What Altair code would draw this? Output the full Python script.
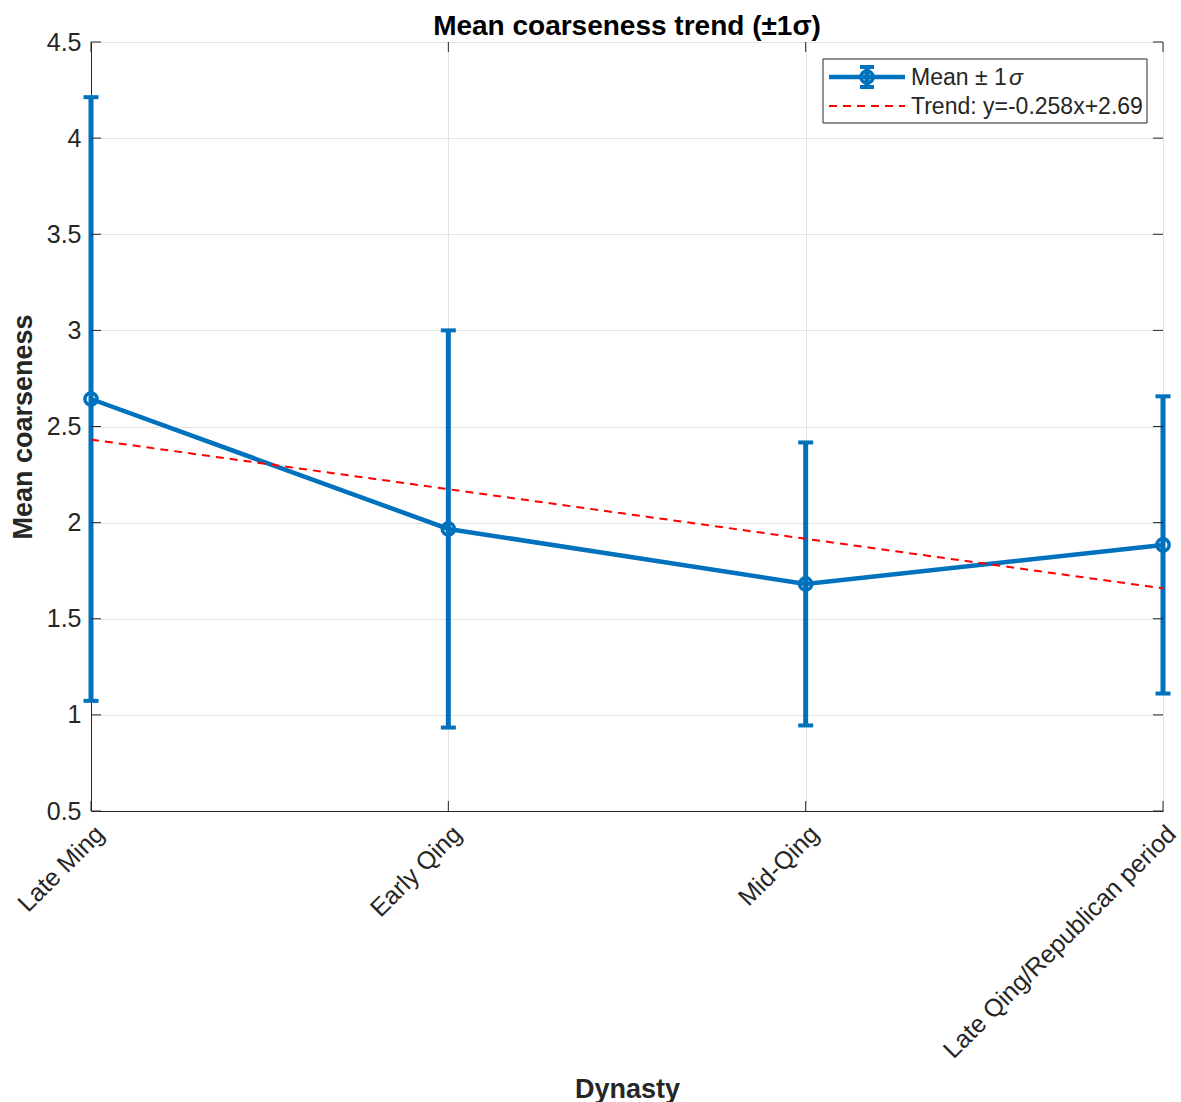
import altair as alt
import pandas as pd

# ---------------- data ----------------
dynasties = ["Late Ming", "Early Qing", "Mid-Qing", "Late Qing/Republican period"]
positions = [1, 2, 3, 4]
means = [2.643, 1.967, 1.681, 1.884]
sds = [1.570, 1.033, 0.736, 0.773]
trend_slope = -0.258
trend_intercept = 2.69
y_ticks = [0.5, 1.0, 1.5, 2.0, 2.5, 3.0, 3.5, 4.0, 4.5]
title_text = "Mean coarseness trend (\u00b11\u03c3)"
legend_label_1 = "Mean \u00b1 1"
legend_sigma = "\u03c3"
legend_label_2 = "Trend: y=-0.258x+2.69"

df = pd.DataFrame({"pos": positions, "dynasty": dynasties, "mean": means, "sd": sds})
df["lo"] = df["mean"] - df["sd"]
df["hi"] = df["mean"] + df["sd"]

trend_df = pd.DataFrame({"pos": [positions[0], positions[-1]]})
trend_df["y"] = trend_slope * trend_df["pos"] + trend_intercept

ytick_df = pd.DataFrame({"v": y_ticks})
xtick_df = pd.DataFrame({"pos": positions})
one = pd.DataFrame({"k": [0]})

# ---------------- style ----------------
W, H = 1072, 769
BLUE = "#0072BD"
DARK = "#262626"
FONT = "Liberation Sans"
TICK_FS = 25
LEG_FS = 23
AXT_FS = 27

x_scale = alt.Scale(domain=[1, 4], nice=False, zero=False)
y_scale = alt.Scale(domain=[0.5, 4.5], nice=False, zero=False)

label_expr = "[''," + ",".join("'" + d + "'" for d in dynasties) + "][datum.value]"

x_axis = alt.Axis(
    values=positions, labelExpr=label_expr, labelAngle=-45, labelAlign="right",
    labelBaseline="top", labelFontSize=TICK_FS, labelPadding=10, labelColor=DARK,
    labelFont=FONT, labelLimit=0, tickSize=0, grid=True, gridColor="#e3e3e3", gridWidth=1,
    domainColor=DARK, title="Dynasty", titleFontSize=AXT_FS, titleFontWeight="bold",
    titleFont=FONT, titleColor=DARK, titleY=286, titleBaseline="alphabetic",
    labelOverlap=False, labelBound=False, labelFlush=False,
)
y_axis = alt.Axis(
    values=y_ticks, format=".1~f", labelFontSize=TICK_FS, labelPadding=10,
    labelColor=DARK, labelFont=FONT, tickSize=0, grid=True, gridColor="#e3e3e3",
    gridWidth=1, domainColor=DARK, title="Mean coarseness", titleFontSize=AXT_FS,
    titleFontWeight="bold", titleFont=FONT, titleColor=DARK, titleX=-60,
    titleBaseline="alphabetic", labelOverlap=False, labelFlush=False,
)

X = alt.X("pos:Q", scale=x_scale, axis=x_axis)

# error bar stems (carry the axes)
stems = alt.Chart(df).mark_rule(color=BLUE, strokeWidth=5).encode(
    x=X, y=alt.Y("lo:Q", scale=y_scale, axis=y_axis), y2="hi:Q"
)
cap_hi = alt.Chart(df).mark_tick(color=BLUE, size=15, thickness=4, orient="horizontal", opacity=1).encode(
    x=alt.X("pos:Q", scale=x_scale), y=alt.Y("hi:Q", scale=y_scale)
)
cap_lo = alt.Chart(df).mark_tick(color=BLUE, size=15, thickness=4, orient="horizontal", opacity=1).encode(
    x=alt.X("pos:Q", scale=x_scale), y=alt.Y("lo:Q", scale=y_scale)
)
mean_line = alt.Chart(df).mark_line(color=BLUE, strokeWidth=4.5).encode(
    x=alt.X("pos:Q", scale=x_scale), y=alt.Y("mean:Q", scale=y_scale)
)
mean_pts = alt.Chart(df).mark_point(
    shape="circle", filled=False, size=150, strokeWidth=3.5, color=BLUE, opacity=1
).encode(x=alt.X("pos:Q", scale=x_scale), y=alt.Y("mean:Q", scale=y_scale))

trend = alt.Chart(trend_df).mark_line(color="#FF0000", strokeDash=[8, 6], strokeWidth=2).encode(
    x=alt.X("pos:Q", scale=x_scale), y=alt.Y("y:Q", scale=y_scale)
)

# inward ticks (MATLAB style box ticks)
tick_style = dict(color=DARK, strokeWidth=1)
yt_left = alt.Chart(ytick_df).mark_rule(**tick_style).encode(
    y=alt.Y("v:Q", scale=y_scale), x=alt.value(0), x2=alt.value(10))
yt_right = alt.Chart(ytick_df).mark_rule(**tick_style).encode(
    y=alt.Y("v:Q", scale=y_scale), x=alt.value(W - 10), x2=alt.value(W))
xt_bot = alt.Chart(xtick_df).mark_rule(**tick_style).encode(
    x=alt.X("pos:Q", scale=x_scale), y=alt.value(H - 10), y2=alt.value(H))
xt_top = alt.Chart(xtick_df).mark_rule(**tick_style).encode(
    x=alt.X("pos:Q", scale=x_scale), y=alt.value(0), y2=alt.value(10))

# title as a text mark placed just above the plot box
title_mark = alt.Chart(one).mark_text(
    align="center", baseline="alphabetic", fontSize=28, fontWeight="bold", font=FONT, color="black"
).encode(x=alt.value(W / 2), y=alt.value(-7), text=alt.value(title_text))

# legend
leg_box = alt.Chart(one).mark_rect(fill="white", stroke=DARK, strokeWidth=1).encode(
    x=alt.value(732), x2=alt.value(1056), y=alt.value(17), y2=alt.value(81))
leg_line = alt.Chart(one).mark_rule(color=BLUE, strokeWidth=4.5).encode(
    x=alt.value(738), x2=alt.value(814), y=alt.value(35))
leg_stem = alt.Chart(one).mark_rule(color=BLUE, strokeWidth=5).encode(
    x=alt.value(776), y=alt.value(24), y2=alt.value(46))
leg_cap1 = alt.Chart(one).mark_rule(color=BLUE, strokeWidth=4).encode(
    x=alt.value(769), x2=alt.value(783), y=alt.value(25))
leg_cap2 = alt.Chart(one).mark_rule(color=BLUE, strokeWidth=4).encode(
    x=alt.value(769), x2=alt.value(783), y=alt.value(45))
leg_pt = alt.Chart(one).mark_point(
    shape="circle", filled=False, size=150, strokeWidth=3.5, color=BLUE, opacity=1
).encode(x=alt.value(776), y=alt.value(35))
leg_dash = alt.Chart(one).mark_rule(color="#FF0000", strokeWidth=2, strokeDash=[8, 6]).encode(
    x=alt.value(738), x2=alt.value(814), y=alt.value(64))
leg_t1 = alt.Chart(one).mark_text(align="left", baseline="middle", fontSize=LEG_FS, font=FONT, color=DARK).encode(
    x=alt.value(820), y=alt.value(36), text=alt.value(legend_label_1))
leg_t1s = alt.Chart(one).mark_text(align="left", baseline="middle", fontSize=LEG_FS, font=FONT, color=DARK,
                                   fontStyle="italic").encode(
    x=alt.value(918), y=alt.value(36), text=alt.value(legend_sigma))
leg_t2 = alt.Chart(one).mark_text(align="left", baseline="middle", fontSize=LEG_FS, font=FONT, color=DARK).encode(
    x=alt.value(820), y=alt.value(65), text=alt.value(legend_label_2))

chart = alt.layer(
    stems, yt_left, yt_right, xt_bot, xt_top,
    cap_hi, cap_lo, mean_line, mean_pts, trend, title_mark,
    leg_box, leg_line, leg_stem, leg_cap1, leg_cap2, leg_pt, leg_dash, leg_t1, leg_t1s, leg_t2,
).properties(
    width=W, height=H,
    autosize=alt.AutoSizeParams(type="none"),
    padding={"left": 91, "top": 42, "right": 18, "bottom": 291},
).configure_view(stroke=DARK, strokeWidth=1).configure(background="white")

chart.save("out.html", embed_options={"renderer": "svg", "actions": False})
